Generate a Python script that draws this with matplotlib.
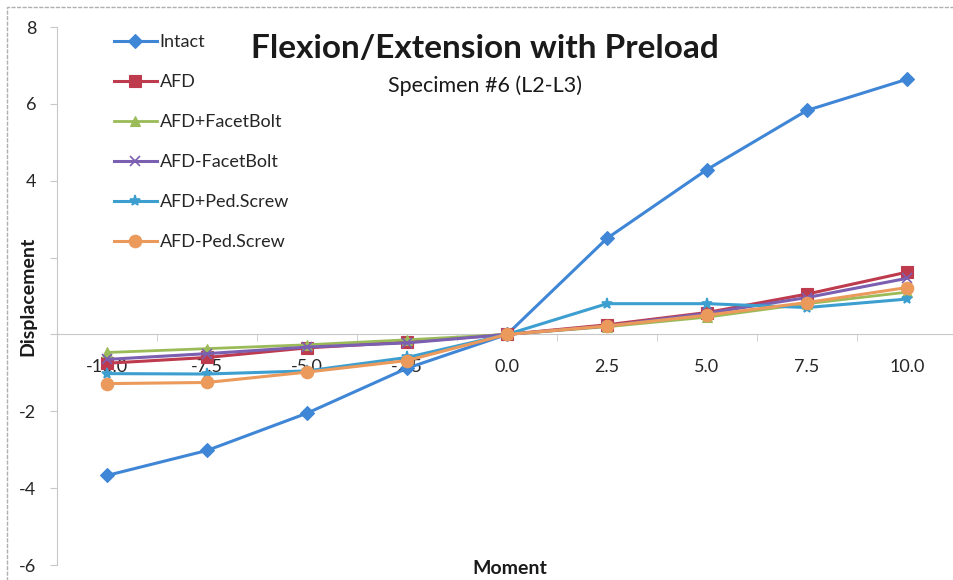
import matplotlib
matplotlib.use("Agg")
import matplotlib.pyplot as plt
from matplotlib.patches import Rectangle
from matplotlib.ticker import FixedLocator

plt.rcParams['axes.unicode_minus'] = False
plt.rcParams['font.family'] = ['Lato', 'DejaVu Sans']

# ---- data ----
categories = ["-10.0", "-7.5", "-5.0", "-2.5", "0.0", "2.5", "5.0", "7.5", "10.0"]
moments = [-10.0, -7.5, -5.0, -2.5, 0.0, 2.5, 5.0, 7.5, 10.0]

intact          = [-3.67, -3.02, -2.05, -0.88, 0.0, 2.50, 4.29, 5.83, 6.64]
afd             = [-0.75, -0.60, -0.35, -0.20, 0.0, 0.25, 0.57, 1.05, 1.62]
afd_plus_facet  = [-0.47, -0.37, -0.27, -0.14, 0.0, 0.20, 0.45, 0.80, 1.10]
afd_minus_facet = [-0.65, -0.50, -0.33, -0.22, 0.0, 0.22, 0.55, 0.96, 1.46]
afd_plus_ped    = [-1.02, -1.03, -0.95, -0.60, 0.0, 0.80, 0.80, 0.70, 0.92]
afd_minus_ped   = [-1.28, -1.25, -0.98, -0.68, 0.0, 0.22, 0.50, 0.83, 1.22]

y_ticks = [-6, -4, -2, 0, 2, 4, 6, 8]
# labels "0" and "2" are hidden behind the axis title in the original chart
y_ticklabels = ["-6", "-4", "-2", "", "", "4", "6", "8"]

series = [
    ("Intact", intact, "#3f86d6", "D", 7, 2.2),
    ("AFD", afd, "#be3b4e", "s", 8, 2.2),
    ("AFD+FacetBolt", afd_plus_facet, "#9bbb59", "^", 7, 2.0),
    ("AFD-FacetBolt", afd_minus_facet, "#7b5fb0", "x", 7, 2.2),
    ("AFD+Ped.Screw", afd_plus_ped, "#3c9fd0", "*", 8, 2.2),
    ("AFD-Ped.Screw", afd_minus_ped, "#eb9a5c", "o", 9, 2.2),
]

fig = plt.figure(figsize=(9.54, 5.80), dpi=100)
ax = fig.add_axes([57/954, 15/580, 900/954, 538/580])

for name, vals, col, mk, ms, lw in series:
    ax.plot(moments, vals, color=col, marker=mk, markersize=ms, linewidth=lw,
            label=name, markeredgecolor=col, markeredgewidth=1.2 if mk in ("x", "*") else 0.8)

ax.set_xlim(-11.25, 11.25)
ax.set_ylim(-6, 8)

for s in ("top", "right"):
    ax.spines[s].set_visible(False)
ax.spines['bottom'].set_position(('data', 0))
ax.spines['bottom'].set_color("#c8c8c8")
ax.spines['left'].set_color("#c8c8c8")
ax.spines['bottom'].set_zorder(0)

ax.set_xticks(moments)
ax.set_xticklabels(categories)
ax.xaxis.set_minor_locator(FixedLocator([m + 1.25 for m in moments[:-1]] + [-11.25]))
ax.tick_params(axis='x', which='major', length=0, pad=18, labelsize=13, labelcolor="#262626")
ax.tick_params(axis='x', which='minor', length=5, direction='out', color="#c8c8c8")

ax.set_yticks(y_ticks)
ax.set_yticklabels(y_ticklabels)
ax.tick_params(axis='y', length=5, direction='out', color="#c8c8c8", labelsize=13,
               labelcolor="#262626", pad=10)

leg = ax.legend(loc='upper left', bbox_to_anchor=(0.055, 1.0), frameon=False,
                fontsize=13, labelspacing=1.33, handlelength=2.4, handletextpad=0.15,
                borderaxespad=0)
for t in leg.get_texts():
    t.set_color("#262626")

fig.text(485/954, 1 - 48/580, "Flexion/Extension with Preload", ha='center', va='center',
         fontsize=24, fontweight='bold', color="#1a1a1a")
fig.text(485/954, 1 - 86/580, "Specimen #6 (L2-L3)", ha='center', va='center',
         fontsize=15.5, color="#1a1a1a")
fig.text(510/954, 1 - 568/580, "Moment", ha='center', va='center',
         fontsize=14, fontweight='bold', color="#1a1a1a")
fig.text(28/954, 1 - 296/580, "Displacement", ha='center', va='center', rotation=90,
         fontsize=14, fontweight='bold', color="#1a1a1a")

fig.patches.append(Rectangle((7/954, -0.05), 1.1, 1 - 7/580 + 0.05, transform=fig.transFigure,
                             fill=False, edgecolor="#b0b0b0", linewidth=1.0, linestyle=(0, (3, 1))))

fig.savefig("out.png", dpi=100)
